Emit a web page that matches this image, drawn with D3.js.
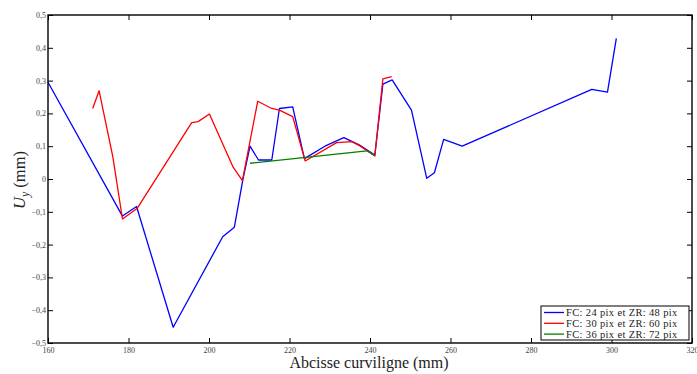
<!DOCTYPE html>
<html><head><meta charset="utf-8">
<script src="https://cdn.jsdelivr.net/npm/d3@7"></script>
<style>html,body{margin:0;padding:0;background:#fff;}svg{display:block;}</style>
</head><body>
<svg id="c" width="697" height="374"></svg>
<script>
const blueX = [160, 178.5, 182.0, 191.1, 203.4, 206.3, 208.4, 210.2, 212.3, 215.6, 217.5, 220.8, 223.7, 228.8, 233.5, 237.3, 241.2, 243.2, 245.5, 250.3, 254.1, 256.0, 258.3, 262.9, 295.1, 299.0, 301.2];
const blueY = [0.295, -0.113, -0.084, -0.452, -0.176, -0.147, -0.003, 0.100, 0.058, 0.058, 0.215, 0.220, 0.062, 0.100, 0.126, 0.104, 0.073, 0.289, 0.302, 0.210, 0.002, 0.019, 0.121, 0.100, 0.273, 0.265, 0.429];
const redX = [171.1, 172.7, 176.1, 178.5, 182.2, 195.7, 197.3, 200.1, 206.0, 208.3, 212.1, 215.6, 217.5, 220.8, 223.9, 231.7, 235.5, 237.5, 241.2, 243.2, 245.4];
const redY = [0.215, 0.269, 0.068, -0.122, -0.089, 0.172, 0.175, 0.198, 0.036, -0.005, 0.237, 0.215, 0.210, 0.190, 0.055, 0.111, 0.114, 0.101, 0.070, 0.305, 0.312];
const greenX = [210.2, 239.2, 241.2];
const greenY = [0.048, 0.086, 0.073];
const xTicks = [160, 180, 200, 220, 240, 260, 280, 300, 320];
const yTicks = [-0.5, -0.4, -0.3, -0.2, -0.1, 0, 0.1, 0.2, 0.3, 0.4, 0.5];
const seriesNames = ["FC: 24 pix et ZR: 48 pix", "FC: 30 pix et ZR: 60 pix", "FC: 36 pix et ZR: 72 pix"];
const seriesColors = ["#0000ff", "#ff0000", "#007f00"];

const L = 48, R = 692, T = 15, B = 343;
const svg = d3.select("#c");
const x = d3.scaleLinear().domain([160, 320]).range([L, R]);
const y = d3.scaleLinear().domain([-0.5, 0.5]).range([B, T]);
const fmtY = v => v === 0 ? "0" : (v < 0 ? "\u2212" : "") + Math.abs(v).toFixed(1).replace(".", ",");
const font = "'Liberation Serif','DejaVu Serif',serif";

const series = [
  {x: blueX, y: blueY, c: seriesColors[0]},
  {x: redX, y: redY, c: seriesColors[1]},
  {x: greenX, y: greenY, c: seriesColors[2]}
];
const line = d3.line().x(d => x(d[0])).y(d => y(d[1]));
const g = svg.append("g");
series.forEach(s => {
  const pts = s.x.map((v, i) => [v, s.y[i]]);
  g.append("path").attr("d", line(pts)).attr("fill", "none").attr("stroke", s.c).attr("stroke-width", 1.3).attr("stroke-linejoin", "round");
});

// axes with inward ticks
const ax = (gen, tr) => {
  const a = svg.append("g").attr("transform", tr).call(gen);
  a.select(".domain").remove();
  a.selectAll("line").attr("stroke", "#000").attr("stroke-width", 1);
  return a;
};
const axBottom = ax(d3.axisBottom(x).tickValues(xTicks).tickSize(-5).tickPadding(3).tickFormat(d3.format("d")), `translate(0,${B})`);
axBottom.selectAll("text").attr("font-family", font).attr("font-size", 8).attr("fill", "#444").attr("dy", "0.9em");
ax(d3.axisTop(x).tickValues(xTicks).tickSize(-5).tickFormat(""), `translate(0,${T})`);
const axLeft = ax(d3.axisLeft(y).tickValues(yTicks).tickSize(-5).tickPadding(2).tickFormat(fmtY), `translate(${L},0)`);
axLeft.selectAll("text").attr("font-family", font).attr("font-size", 8).attr("fill", "#444");
ax(d3.axisRight(y).tickValues(yTicks).tickSize(-5).tickFormat(""), `translate(${R},0)`);

svg.append("rect").attr("x", L).attr("y", T).attr("width", R - L).attr("height", B - T)
  .attr("fill", "none").attr("stroke", "#000").attr("stroke-width", 1.4);

// axis labels
svg.append("text").attr("x", (L + R) / 2 - 1).attr("y", 368).attr("text-anchor", "middle")
  .attr("font-family", font).attr("font-size", 16).attr("fill", "#222").text("Abcisse curviligne (mm)");
const yl = svg.append("text").attr("transform", `translate(25,${(T + B) / 2 + 1}) rotate(-90)`).attr("text-anchor", "middle")
  .attr("font-family", font).attr("font-size", 16.5).attr("fill", "#222");
yl.append("tspan").attr("font-style", "italic").text("U");
yl.append("tspan").attr("font-style", "italic").attr("font-size", 12).attr("dy", 4).text("y");
yl.append("tspan").attr("dy", -4).text(" (mm)");

// legend
const lg = svg.append("g").attr("transform", "translate(541,306)");
lg.append("rect").attr("width", 148).attr("height", 34).attr("fill", "#fff").attr("stroke", "#000").attr("stroke-width", 1);
seriesNames.forEach((n, i) => {
  const yy = 6.5 + i * 10.8;
  lg.append("line").attr("x1", 3).attr("x2", 23).attr("y1", yy).attr("y2", yy).attr("stroke", seriesColors[i]).attr("stroke-width", 1.3);
  lg.append("text").attr("x", 25).attr("y", yy + 3.5).attr("font-family", font).attr("font-size", 10.5)
    .attr("letter-spacing", 0.35).attr("fill", "#222").text(n);
});
</script>
</body></html>
